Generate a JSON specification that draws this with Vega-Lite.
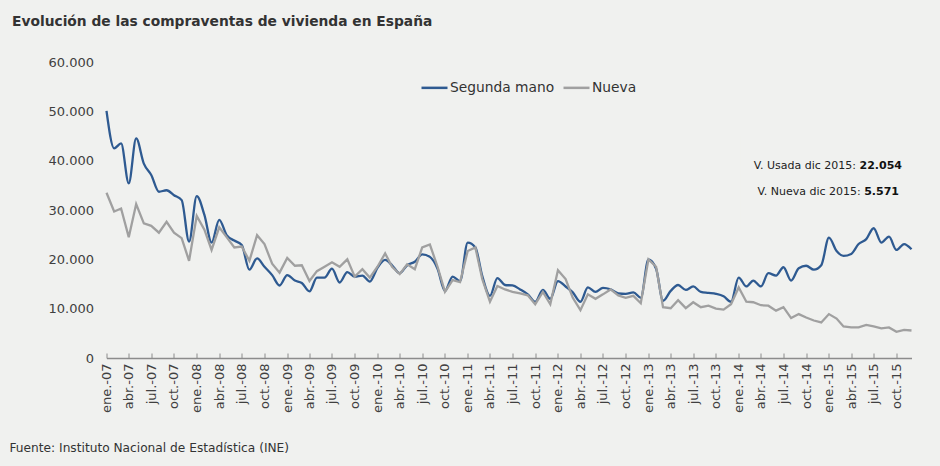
{
  "$schema": "https://vega.github.io/schema/vega-lite/v6.json",
  "width": 805,
  "height": 296,
  "autosize": {"type": "none"},
  "padding": {"left": 106.5, "top": 62, "right": 28.5, "bottom": 108},
  "background": "#f0f1ef",
  "title": {"text": "Evolución de las compraventas de vivienda en España", "anchor": "start", "frame": "group", "dx": -94.5, "offset": 16, "baseline": "alphabetic", "fontSize": 13.8, "fontWeight": "bold", "color": "#333333", "font": "DejaVu Sans"},
  "config": {"view": {"stroke": null}, "font": "DejaVu Sans"},
  "data": {"values": [
    {"fecha": "2007-01-01", "Segunda mano": 50100, "Nueva": 33500},
    {"fecha": "2007-02-01", "Segunda mano": 42500, "Nueva": 29700},
    {"fecha": "2007-03-01", "Segunda mano": 43500, "Nueva": 30300},
    {"fecha": "2007-04-01", "Segunda mano": 35400, "Nueva": 24500},
    {"fecha": "2007-05-01", "Segunda mano": 44500, "Nueva": 31200},
    {"fecha": "2007-06-01", "Segunda mano": 39400, "Nueva": 27300},
    {"fecha": "2007-07-01", "Segunda mano": 37100, "Nueva": 26800},
    {"fecha": "2007-08-01", "Segunda mano": 33700, "Nueva": 25400},
    {"fecha": "2007-09-01", "Segunda mano": 34000, "Nueva": 27600},
    {"fecha": "2007-10-01", "Segunda mano": 33000, "Nueva": 25400},
    {"fecha": "2007-11-01", "Segunda mano": 32000, "Nueva": 24300},
    {"fecha": "2007-12-01", "Segunda mano": 23600, "Nueva": 19700},
    {"fecha": "2008-01-01", "Segunda mano": 32800, "Nueva": 28800},
    {"fecha": "2008-02-01", "Segunda mano": 29000, "Nueva": 26000},
    {"fecha": "2008-03-01", "Segunda mano": 23400, "Nueva": 21900},
    {"fecha": "2008-04-01", "Segunda mano": 28000, "Nueva": 26500},
    {"fecha": "2008-05-01", "Segunda mano": 24900, "Nueva": 24500},
    {"fecha": "2008-06-01", "Segunda mano": 23800, "Nueva": 22400},
    {"fecha": "2008-07-01", "Segunda mano": 22900, "Nueva": 22600},
    {"fecha": "2008-08-01", "Segunda mano": 17900, "Nueva": 19700},
    {"fecha": "2008-09-01", "Segunda mano": 20200, "Nueva": 24900},
    {"fecha": "2008-10-01", "Segunda mano": 18500, "Nueva": 23100},
    {"fecha": "2008-11-01", "Segunda mano": 16800, "Nueva": 19100},
    {"fecha": "2008-12-01", "Segunda mano": 14700, "Nueva": 17300},
    {"fecha": "2009-01-01", "Segunda mano": 16800, "Nueva": 20300},
    {"fecha": "2009-02-01", "Segunda mano": 15700, "Nueva": 18700},
    {"fecha": "2009-03-01", "Segunda mano": 15200, "Nueva": 18800},
    {"fecha": "2009-04-01", "Segunda mano": 13500, "Nueva": 15600},
    {"fecha": "2009-05-01", "Segunda mano": 16300, "Nueva": 17600},
    {"fecha": "2009-06-01", "Segunda mano": 16300, "Nueva": 18500},
    {"fecha": "2009-07-01", "Segunda mano": 18100, "Nueva": 19400},
    {"fecha": "2009-08-01", "Segunda mano": 15300, "Nueva": 18500},
    {"fecha": "2009-09-01", "Segunda mano": 17400, "Nueva": 20000},
    {"fecha": "2009-10-01", "Segunda mano": 16500, "Nueva": 16500},
    {"fecha": "2009-11-01", "Segunda mano": 16700, "Nueva": 18000},
    {"fecha": "2009-12-01", "Segunda mano": 15500, "Nueva": 16300},
    {"fecha": "2010-01-01", "Segunda mano": 18300, "Nueva": 18500},
    {"fecha": "2010-02-01", "Segunda mano": 19900, "Nueva": 21200},
    {"fecha": "2010-03-01", "Segunda mano": 18800, "Nueva": 18500},
    {"fecha": "2010-04-01", "Segunda mano": 17200, "Nueva": 17000},
    {"fecha": "2010-05-01", "Segunda mano": 18800, "Nueva": 19000},
    {"fecha": "2010-06-01", "Segunda mano": 19500, "Nueva": 18000},
    {"fecha": "2010-07-01", "Segunda mano": 21000, "Nueva": 22400},
    {"fecha": "2010-08-01", "Segunda mano": 20500, "Nueva": 23000},
    {"fecha": "2010-09-01", "Segunda mano": 18100, "Nueva": 18500},
    {"fecha": "2010-10-01", "Segunda mano": 13600, "Nueva": 13400},
    {"fecha": "2010-11-01", "Segunda mano": 16500, "Nueva": 15800},
    {"fecha": "2010-12-01", "Segunda mano": 15600, "Nueva": 15400},
    {"fecha": "2011-01-01", "Segunda mano": 23400, "Nueva": 21700},
    {"fecha": "2011-02-01", "Segunda mano": 22400, "Nueva": 22400},
    {"fecha": "2011-03-01", "Segunda mano": 16600, "Nueva": 16000},
    {"fecha": "2011-04-01", "Segunda mano": 12600, "Nueva": 11400},
    {"fecha": "2011-05-01", "Segunda mano": 16200, "Nueva": 14600},
    {"fecha": "2011-06-01", "Segunda mano": 14800, "Nueva": 13900},
    {"fecha": "2011-07-01", "Segunda mano": 14700, "Nueva": 13400},
    {"fecha": "2011-08-01", "Segunda mano": 13900, "Nueva": 13100},
    {"fecha": "2011-09-01", "Segunda mano": 12900, "Nueva": 12700},
    {"fecha": "2011-10-01", "Segunda mano": 11400, "Nueva": 10900},
    {"fecha": "2011-11-01", "Segunda mano": 13800, "Nueva": 13400},
    {"fecha": "2011-12-01", "Segunda mano": 12000, "Nueva": 10900},
    {"fecha": "2012-01-01", "Segunda mano": 15600, "Nueva": 17800},
    {"fecha": "2012-02-01", "Segunda mano": 14500, "Nueva": 16000},
    {"fecha": "2012-03-01", "Segunda mano": 13300, "Nueva": 12200},
    {"fecha": "2012-04-01", "Segunda mano": 11400, "Nueva": 9700},
    {"fecha": "2012-05-01", "Segunda mano": 14300, "Nueva": 12900},
    {"fecha": "2012-06-01", "Segunda mano": 13400, "Nueva": 12000},
    {"fecha": "2012-07-01", "Segunda mano": 14200, "Nueva": 12900},
    {"fecha": "2012-08-01", "Segunda mano": 13900, "Nueva": 13900},
    {"fecha": "2012-09-01", "Segunda mano": 13100, "Nueva": 12700},
    {"fecha": "2012-10-01", "Segunda mano": 13000, "Nueva": 12200},
    {"fecha": "2012-11-01", "Segunda mano": 13300, "Nueva": 12600},
    {"fecha": "2012-12-01", "Segunda mano": 12200, "Nueva": 11100},
    {"fecha": "2013-01-01", "Segunda mano": 20000, "Nueva": 20000},
    {"fecha": "2013-02-01", "Segunda mano": 18100, "Nueva": 18500},
    {"fecha": "2013-03-01", "Segunda mano": 11600, "Nueva": 10300},
    {"fecha": "2013-04-01", "Segunda mano": 13600, "Nueva": 10100},
    {"fecha": "2013-05-01", "Segunda mano": 14800, "Nueva": 11700},
    {"fecha": "2013-06-01", "Segunda mano": 13800, "Nueva": 10100},
    {"fecha": "2013-07-01", "Segunda mano": 14500, "Nueva": 11300},
    {"fecha": "2013-08-01", "Segunda mano": 13400, "Nueva": 10300},
    {"fecha": "2013-09-01", "Segunda mano": 13200, "Nueva": 10600},
    {"fecha": "2013-10-01", "Segunda mano": 13000, "Nueva": 10000},
    {"fecha": "2013-11-01", "Segunda mano": 12500, "Nueva": 9800},
    {"fecha": "2013-12-01", "Segunda mano": 11400, "Nueva": 10900},
    {"fecha": "2014-01-01", "Segunda mano": 16300, "Nueva": 14300},
    {"fecha": "2014-02-01", "Segunda mano": 14500, "Nueva": 11400},
    {"fecha": "2014-03-01", "Segunda mano": 15700, "Nueva": 11300},
    {"fecha": "2014-04-01", "Segunda mano": 14500, "Nueva": 10700},
    {"fecha": "2014-05-01", "Segunda mano": 17200, "Nueva": 10600},
    {"fecha": "2014-06-01", "Segunda mano": 16700, "Nueva": 9600},
    {"fecha": "2014-07-01", "Segunda mano": 18400, "Nueva": 10300},
    {"fecha": "2014-08-01", "Segunda mano": 15700, "Nueva": 8100},
    {"fecha": "2014-09-01", "Segunda mano": 18200, "Nueva": 8900},
    {"fecha": "2014-10-01", "Segunda mano": 18700, "Nueva": 8200},
    {"fecha": "2014-11-01", "Segunda mano": 17900, "Nueva": 7600},
    {"fecha": "2014-12-01", "Segunda mano": 18800, "Nueva": 7200},
    {"fecha": "2015-01-01", "Segunda mano": 24400, "Nueva": 8900},
    {"fecha": "2015-02-01", "Segunda mano": 21700, "Nueva": 8000},
    {"fecha": "2015-03-01", "Segunda mano": 20700, "Nueva": 6400},
    {"fecha": "2015-04-01", "Segunda mano": 21100, "Nueva": 6200},
    {"fecha": "2015-05-01", "Segunda mano": 23100, "Nueva": 6200},
    {"fecha": "2015-06-01", "Segunda mano": 24100, "Nueva": 6700},
    {"fecha": "2015-07-01", "Segunda mano": 26300, "Nueva": 6400},
    {"fecha": "2015-08-01", "Segunda mano": 23400, "Nueva": 6000},
    {"fecha": "2015-09-01", "Segunda mano": 24600, "Nueva": 6200},
    {"fecha": "2015-10-01", "Segunda mano": 21900, "Nueva": 5300},
    {"fecha": "2015-11-01", "Segunda mano": 23100, "Nueva": 5700},
    {"fecha": "2015-12-01", "Segunda mano": 22054, "Nueva": 5571}
  ]},
  "transform": [{"fold": ["Segunda mano", "Nueva"], "as": ["serie", "valor"]}],
  "layer": [
    {
      "data": {"values": [{}]},
      "mark": {"type": "rect", "fill": "#f0f1ef"},
      "encoding": {
        "x": {"datum": {"year": 2014, "month": 1, "date": 8, "utc": true}, "type": "temporal"},
        "x2": {"datum": {"year": 2015, "month": 12, "date": 1, "utc": true}},
        "y": {"datum": 45000, "type": "quantitative"},
        "y2": {"datum": 26000}
      }
    },
    {
      "transform": [{"filter": "datum.serie == 'Segunda mano'"}],
      "mark": {"type": "line", "interpolate": "monotone", "strokeWidth": 2.3},
      "encoding": {
        "x": {
          "field": "fecha", "type": "temporal",
          "scale": {"type": "utc", "domain": [{"year": 2007, "month": 1, "date": 1, "utc": true}, {"year": 2015, "month": 12, "date": 1, "utc": true}]},
          "axis": {
            "title": "Fuente: Instituto Nacional de Estadística (INE)",
            "titleAnchor": "start", "titleAlign": "left", "titleX": -97.5, "titleY": 93,
            "titleBaseline": "alphabetic", "titleFontSize": 12.2, "titleFontWeight": "normal", "titleColor": "#333333",
            "tickCount": {"interval": "month", "step": 3},
            "labelExpr": "['ene.','feb.','mar.','abr.','may.','jun.','jul.','ago.','sep.','oct.','nov.','dic.'][utcmonth(datum.value)] + '-' + utcFormat(datum.value, '%y')",
            "labelAngle": 270, "labelAlign": "right", "labelBaseline": "middle",
            "labelFontSize": 13, "labelColor": "#404040", "labelPadding": 10,
            "labelOverlap": false, "labelFlush": false,
            "tickSize": -5, "tickColor": "#8c8c8c", "domainColor": "#8c8c8c", "domainWidth": 1.3,
            "grid": false
          }
        },
        "y": {
          "field": "valor", "type": "quantitative",
          "scale": {"domain": [0, 60000], "nice": false},
          "axis": {
            "title": null, "domain": false, "ticks": false,
            "values": [0, 10000, 20000, 30000, 40000, 50000, 60000],
            "labelExpr": "replace(format(datum.value, ','), ',', '.')",
            "labelFontSize": 13, "labelColor": "#404040", "labelPadding": 13,
            "gridColor": "#ffffff", "gridWidth": 1.3
          }
        },
        "color": {
          "field": "serie", "type": "nominal",
          "scale": {"domain": ["Segunda mano", "Nueva"], "range": ["#2e5a91", "#a0a0a0"]},
          "legend": {
            "title": null, "orient": "none", "legendX": 313.5, "legendY": 11,
            "direction": "horizontal", "symbolType": "stroke", "symbolSize": 676,
            "symbolStrokeWidth": 2.5, "labelFontSize": 13.8, "labelColor": "#333333",
            "labelOffset": 1, "columnPadding": 3
          }
        }
      }
    },
    {
      "transform": [{"filter": "datum.serie == 'Nueva'"}],
      "mark": {"type": "line", "interpolate": "linear", "strokeWidth": 2.3},
      "encoding": {
        "x": {"field": "fecha", "type": "temporal"},
        "y": {"field": "valor", "type": "quantitative"},
        "color": {"field": "serie", "type": "nominal"}
      }
    },
    {
      "data": {"values": [{}]},
      "mark": {"type": "text", "text": "22.054", "align": "right", "baseline": "alphabetic", "dx": -9.5, "fontSize": 11, "fontWeight": "bold", "color": "#111111"},
      "encoding": {
        "x": {"datum": {"year": 2015, "month": 12, "date": 1, "utc": true}, "type": "temporal"},
        "y": {"datum": 38311, "type": "quantitative"}
      }
    },
    {
      "data": {"values": [{}]},
      "mark": {"type": "text", "text": "V. Usada dic 2015:", "align": "right", "baseline": "alphabetic", "dx": -55.5, "fontSize": 11, "color": "#222222"},
      "encoding": {
        "x": {"datum": {"year": 2015, "month": 12, "date": 1, "utc": true}, "type": "temporal"},
        "y": {"datum": 38311, "type": "quantitative"}
      }
    },
    {
      "data": {"values": [{}]},
      "mark": {"type": "text", "text": "5.571", "align": "right", "baseline": "alphabetic", "dx": -12.5, "fontSize": 11, "fontWeight": "bold", "color": "#111111"},
      "encoding": {
        "x": {"datum": {"year": 2015, "month": 12, "date": 1, "utc": true}, "type": "temporal"},
        "y": {"datum": 33041, "type": "quantitative"}
      }
    },
    {
      "data": {"values": [{}]},
      "mark": {"type": "text", "text": "V. Nueva dic 2015:", "align": "right", "baseline": "alphabetic", "dx": -50.8, "fontSize": 11, "color": "#222222"},
      "encoding": {
        "x": {"datum": {"year": 2015, "month": 12, "date": 1, "utc": true}, "type": "temporal"},
        "y": {"datum": 33041, "type": "quantitative"}
      }
    }
  ]
}
